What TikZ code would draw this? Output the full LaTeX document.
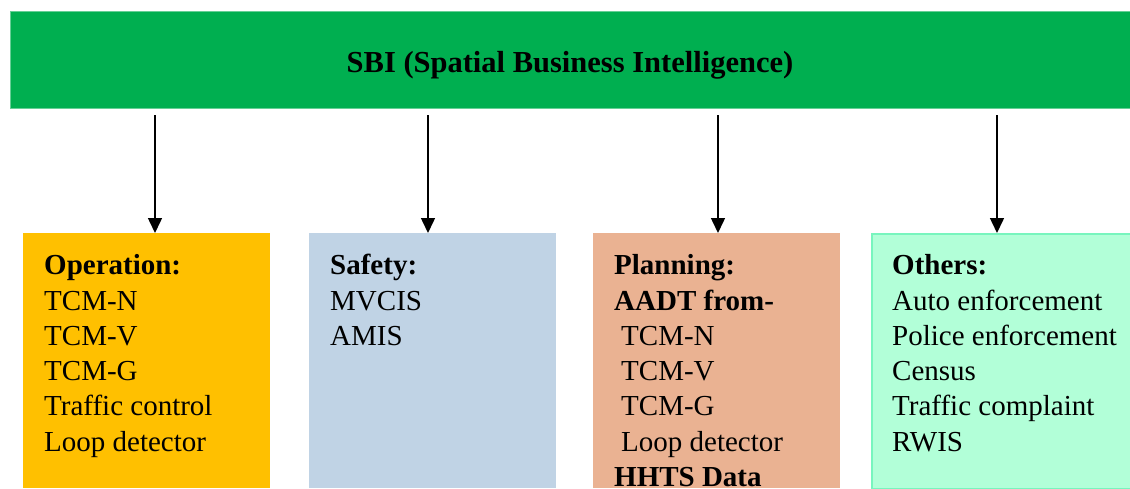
\documentclass[tikz,border=0pt]{standalone}
\usepackage{fontspec}
\setmainfont{Liberation Serif}
\usetikzlibrary{arrows.meta}
\definecolor{sbiGreen}{HTML}{00AF50}
\definecolor{opColor}{HTML}{FFC000}
\definecolor{safeColor}{HTML}{C0D3E5}
\definecolor{planColor}{HTML}{EAB292}
\definecolor{otherColor}{HTML}{B2FFD8}
\definecolor{otherLine}{HTML}{78F5BE}
\begin{document}
\begin{tikzpicture}
[x=1pt,y=-1pt,
  boxDecorate/.style={shape=rectangle,inner sep=0pt,minimum width=247pt,minimum height=255pt,anchor=north west},
  textDecorate/.style={anchor=north west,inner sep=0pt,align=left,font=\fontsize{29}{35.3}\selectfont},
  arrowDecorate/.style={-{Triangle[length=15pt,width=14pt]},line width=1.5pt}]
\useasboundingbox (0,0) rectangle (1130,488);
%% top bar
\node (sbi) at (570,59.5) [shape=rectangle,fill=sbiGreen,draw=sbiGreen!60!white,inner sep=0pt,
  minimum width=1120pt,minimum height=97pt,text height=31pt,text depth=6pt,
  font=\bfseries\fontsize{30.5}{36}\selectfont] {SBI (Spatial Business Intelligence)};
%% boxes
\node (op) at (23,233) [boxDecorate,fill=opColor] {};
\node (safe) at (309,233) [boxDecorate,fill=safeColor] {};
\node (plan) at (593,233) [boxDecorate,fill=planColor] {};
\node (other) at (871,233) [boxDecorate,fill=otherColor,draw=otherLine,line width=1.5pt,minimum width=262pt] {};
%% texts
\node (opText) at (44,249.8) [textDecorate] {\strut\textbf{Operation:}\\TCM-N\\TCM-V\\TCM-G\\Traffic control\\Loop detector};
\node (safeText) at (330,249.8) [textDecorate] {\strut\textbf{Safety:}\\MVCIS\\AMIS};
\node (planText) at (614,249.8) [textDecorate] {\strut\textbf{Planning:}\\\textbf{AADT from-}\\\hspace{7pt}TCM-N\\\hspace{7pt}TCM-V\\\hspace{7pt}TCM-G\\\hspace{7pt}Loop detector\\\textbf{HHTS Data}};
\node (otherText) at (892,249.8) [textDecorate] {\strut\textbf{Others:}\\Auto enforcement\\Police enforcement\\Census\\Traffic complaint\\RWIS};
%% arrows
\foreach \boxname/\x in {op/155, safe/428, plan/718, other/997}
{
  \coordinate (\boxname Start) at (\x,115);
  \draw[arrowDecorate] (\boxname Start) -- (\boxname Start |- \boxname.north);
}
\end{tikzpicture}
\end{document}
